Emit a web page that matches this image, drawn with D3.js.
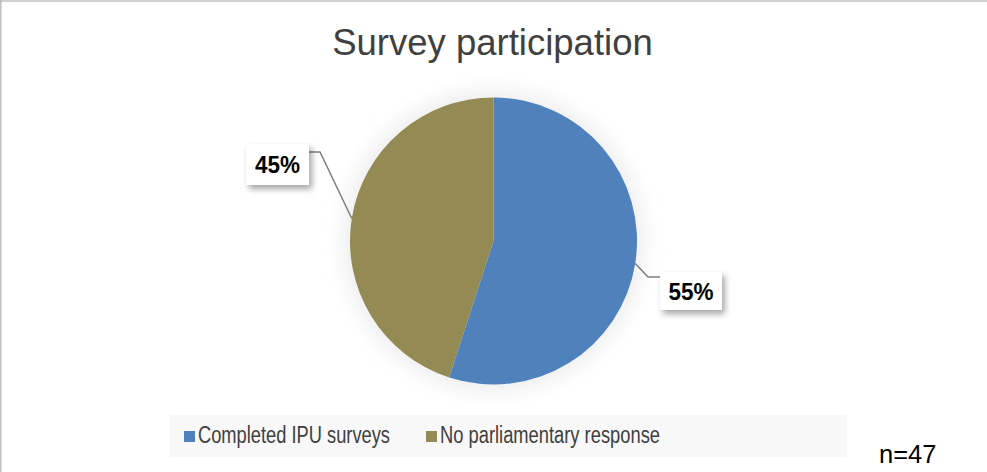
<!DOCTYPE html>
<html><head><meta charset="utf-8">
<script src="https://cdn.jsdelivr.net/npm/d3@7"></script>
<style>html,body{margin:0;padding:0;background:#fff;} svg{display:block;}</style>
</head><body>
<svg id="chart" width="987" height="472"></svg>
<script>
const title = "Survey participation";
const categories = ["Completed IPU surveys", "No parliamentary response"];
const values = [55, 45];
const labels = ["55%", "45%"];
const colors = ["#4f81bd", "#948a54"];
const note = "n=47";

const W = 987, H = 472;
const svg = d3.select("#chart");
const defs = svg.append("defs");
const sh = defs.append("filter").attr("id","shadow").attr("x","-30%").attr("y","-30%").attr("width","160%").attr("height","180%");
sh.append("feDropShadow").attr("dx",3).attr("dy",4).attr("stdDeviation",3).attr("flood-color","#000").attr("flood-opacity",0.35);
const glow = defs.append("filter").attr("id","glow").attr("x","-30%").attr("y","-30%").attr("width","160%").attr("height","160%");
glow.append("feGaussianBlur").attr("stdDeviation",10);

svg.append("rect").attr("width",W).attr("height",H).attr("fill","#fff");
svg.append("line").attr("x1",0).attr("x2",W).attr("y1",1).attr("y2",1).attr("stroke","#c0c0c0").attr("stroke-width",1.5);
svg.append("line").attr("x1",0.75).attr("x2",0.75).attr("y1",0).attr("y2",H).attr("stroke","#c0c0c0").attr("stroke-width",1.5);

svg.append("text").attr("x",492.5).attr("y",55).attr("text-anchor","middle")
  .attr("font-family","Liberation Sans, Arial, sans-serif").attr("font-size",36.5).attr("fill","#404040").text(title);

const cx = 493.5, cy = 241, r = 143.5;
const g = svg.append("g").attr("transform",`translate(${cx},${cy})`);
g.append("circle").attr("r",r+6).attr("fill","#ececec").attr("filter","url(#glow)");

const pie = d3.pie().sort(null).value(d=>d)(values);
const arc = d3.arc().innerRadius(0).outerRadius(r);
g.selectAll("path.slice").data(pie).join("path").attr("class","slice")
  .attr("d",arc).attr("fill",(d,i)=>colors[i]);

const labelSpecs = [
  {box:{x:660-cx,y:272-cy,w:62,h:38}, elbow:[[648-cx,277-cy],[660-cx,277-cy]]},
  {box:{x:246-cx,y:144-cy,w:63,h:41}, elbow:[[320-cx,152-cy],[309-cx,152-cy]]}
];
pie.forEach((d,i)=>{
  const a = (d.startAngle+d.endAngle)/2;
  const p0 = [Math.sin(a)*r, -Math.cos(a)*r];
  const s = labelSpecs[i];
  g.append("polyline").attr("points",[p0,...s.elbow].map(p=>p.join(",")).join(" "))
    .attr("fill","none").attr("stroke","#7f7f7f").attr("stroke-width",1.5);
  g.append("rect").attr("x",s.box.x).attr("y",s.box.y).attr("width",s.box.w).attr("height",s.box.h)
    .attr("fill","#fff").attr("filter","url(#shadow)");
  g.append("text").attr("x",s.box.x+s.box.w/2).attr("y",s.box.y+s.box.h/2+8.5)
    .attr("text-anchor","middle").attr("font-family","Liberation Sans, Arial, sans-serif")
    .attr("font-weight","bold").attr("font-size",23.5).attr("fill","#000")
    .attr("textLength",45).attr("lengthAdjust","spacingAndGlyphs").text(labels[i]);
});

svg.append("rect").attr("x",170).attr("y",415).attr("width",677).attr("height",42).attr("fill","#f8f8f8");
const legX = [184, 426], legLen = [192, 220];
categories.forEach((c,i)=>{
  svg.append("rect").attr("x",legX[i]).attr("y",431).attr("width",11).attr("height",11).attr("fill",colors[i]);
  svg.append("text").attr("x",legX[i]+14).attr("y",443).attr("font-family","Liberation Sans, Arial, sans-serif")
    .attr("font-size",23.5).attr("fill","#404040").attr("textLength",legLen[i]).attr("lengthAdjust","spacingAndGlyphs").text(c);
});

svg.append("text").attr("x",879).attr("y",463).attr("font-family","Liberation Sans, Arial, sans-serif")
  .attr("font-size",25.5).attr("fill","#000").text(note);
</script>
</body></html>
